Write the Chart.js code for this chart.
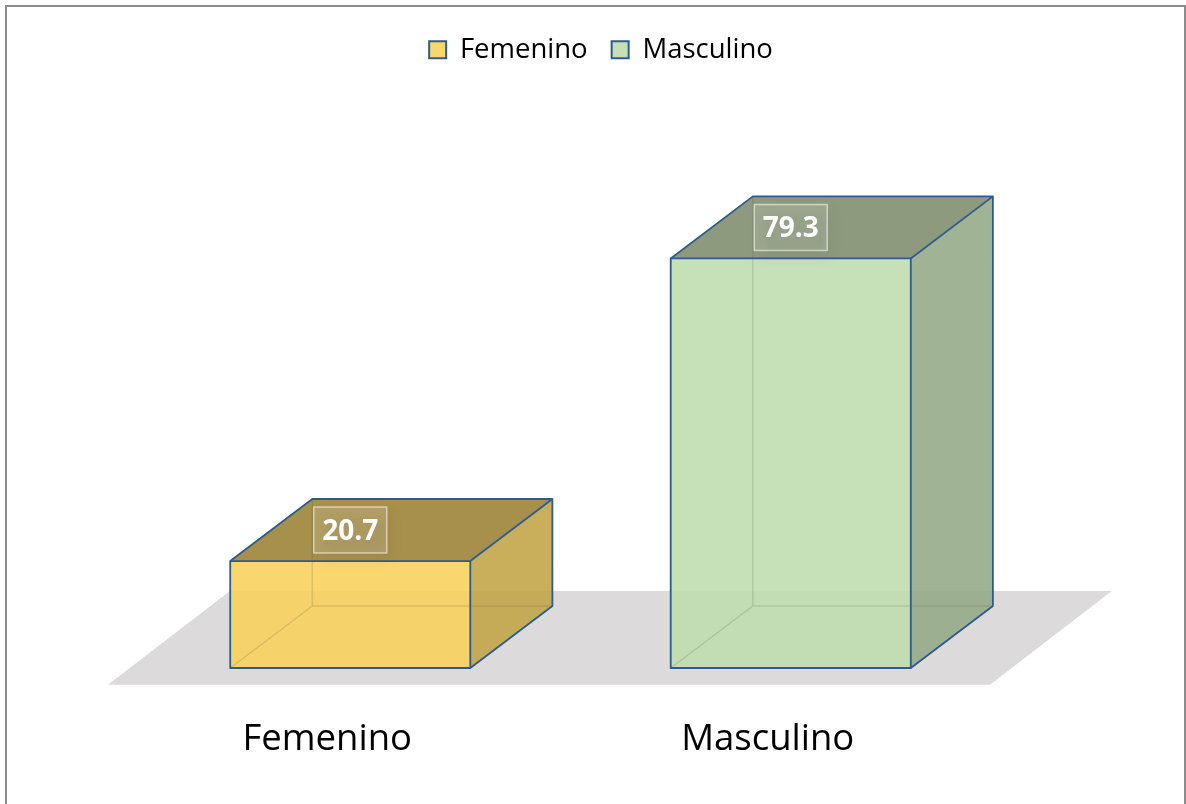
<!DOCTYPE html>
<html><head><meta charset="utf-8">
<script src="https://cdn.jsdelivr.net/npm/chart.js@4.4.0/dist/chart.umd.min.js"></script>
<style>
html,body{margin:0;padding:0;background:#fff;overflow:hidden}
#frame{position:absolute;left:5px;top:5px;width:1177px;height:830px;border:2px solid #8c8c8c;}
#wrap{position:absolute;left:0;top:0;width:1186px;height:804px}
</style></head>
<body><div id="frame"></div><div id="wrap"><canvas id="c" width="1186" height="804"></canvas></div>
<script>
const categories = ['Femenino', 'Masculino'];
const seriesNames = ['Femenino', 'Masculino'];
const femeninoValues = [20.7, null];
const masculinoValues = [null, 79.3];
const valueLabels = ['20.7', '79.3'];

const EDGE = '#2E5C8A';
const looks = [
  {front:'rgba(248,208,90,0.88)', top:'rgba(160,135,60,0.92)', side:'rgba(193,163,70,0.88)'},
  {front:'rgba(190,220,173,0.88)', top:'rgba(132,145,115,0.92)', side:'rgba(147,169,133,0.88)'}
];
const DEPTH_X = 0.342, SLOPE = 0.756;

function boxes(chart){
  const out = [];
  chart.data.datasets.forEach((ds, di) => {
    const meta = chart.getDatasetMeta(di);
    meta.data.forEach((el, i) => {
      if (ds.data[i] === null || ds.data[i] === undefined) return;
      const w = el.width;
      const dx = w * DEPTH_X, dy = dx * SLOPE;
      out.push({di, i, l: el.x - w/2, r: el.x + w/2, t: el.y, b: el.base, x: el.x, dx, dy, look: looks[di]});
    });
  });
  return out;
}

const box3d = {
  id: 'box3d',
  beforeDatasetsDraw(chart){
    const {ctx, chartArea: a} = chart;
    const bx = boxes(chart);
    if (!bx.length) return;
    const dy = bx[0].dy;
    const y0 = bx[0].b;
    const fy = y0 + dy * 0.27, by = y0 - dy * 1.24;
    const fl = a.left - 22, fr = a.right - 21;
    const off = (fy - by) * 1.3;
    ctx.save();
    ctx.fillStyle = '#DCDADB';
    ctx.beginPath();
    ctx.moveTo(fl, fy); ctx.lineTo(fl + off, by); ctx.lineTo(fr + off, by); ctx.lineTo(fr, fy);
    ctx.closePath(); ctx.fill();
    ctx.restore();
  },
  afterDatasetsDraw(chart){
    const {ctx} = chart;
    ctx.save();
    boxes(chart).forEach(b => {
      ctx.fillStyle = b.look.top;
      ctx.beginPath();
      ctx.moveTo(b.l, b.t); ctx.lineTo(b.l + b.dx, b.t - b.dy); ctx.lineTo(b.r + b.dx, b.t - b.dy); ctx.lineTo(b.r, b.t);
      ctx.closePath(); ctx.fill();
      ctx.fillStyle = b.look.side;
      ctx.beginPath();
      ctx.moveTo(b.r, b.t); ctx.lineTo(b.r + b.dx, b.t - b.dy); ctx.lineTo(b.r + b.dx, b.b - b.dy); ctx.lineTo(b.r, b.b);
      ctx.closePath(); ctx.fill();
      ctx.strokeStyle = 'rgba(90,90,60,0.18)';
      ctx.lineWidth = 1.5;
      ctx.beginPath();
      ctx.moveTo(b.l, b.b); ctx.lineTo(b.l + b.dx, b.b - b.dy);
      ctx.lineTo(b.r + b.dx, b.b - b.dy);
      ctx.moveTo(b.l + b.dx, b.b - b.dy); ctx.lineTo(b.l + b.dx, b.t - b.dy);
      ctx.stroke();
      ctx.strokeStyle = EDGE;
      ctx.lineWidth = 1.8;
      ctx.lineJoin = 'round';
      ctx.beginPath();
      ctx.moveTo(b.l, b.t); ctx.lineTo(b.l + b.dx, b.t - b.dy); ctx.lineTo(b.r + b.dx, b.t - b.dy); ctx.lineTo(b.r, b.t);
      ctx.moveTo(b.r + b.dx, b.t - b.dy); ctx.lineTo(b.r + b.dx, b.b - b.dy); ctx.lineTo(b.r, b.b);
      ctx.stroke();
      ctx.strokeRect(b.l, b.t, b.r - b.l, b.b - b.t);
      const cx = b.x, cy = b.t - b.dy / 2;
      const bw = 73, bh = 46;
      ctx.save();
      ctx.shadowColor = 'rgba(0,0,0,0.45)';
      ctx.shadowBlur = 14; ctx.shadowOffsetX = 4; ctx.shadowOffsetY = 6;
      ctx.fillStyle = 'rgba(255,255,255,0.14)';
      ctx.fillRect(cx - bw/2, cy - bh/2, bw, bh);
      ctx.restore();
      ctx.strokeStyle = 'rgba(255,255,255,0.55)';
      ctx.lineWidth = 1.5;
      ctx.strokeRect(cx - bw/2, cy - bh/2, bw, bh);
      ctx.fillStyle = '#ffffff';
      ctx.font = 'bold 28px "Open Sans"';
      ctx.textAlign = 'center';
      ctx.textBaseline = 'alphabetic';
      ctx.fillText(valueLabels[b.i], cx, cy + 10);
    });
    ctx.restore();
  }
};

new Chart(document.getElementById('c'), {
  type: 'bar',
  data: {
    labels: categories,
    datasets: [
      {label: seriesNames[0], data: femeninoValues, backgroundColor: looks[0].front, borderColor: EDGE, borderWidth: 0},
      {label: seriesNames[1], data: masculinoValues, backgroundColor: looks[1].front, borderColor: EDGE, borderWidth: 0}
    ]
  },
  options: {
    responsive: false,
    animation: false,
    devicePixelRatio: 1,
    layout: {padding: {left: 130, right: 114, top: 12, bottom: 42}},
    datasets: {bar: {grouped: false, categoryPercentage: 1, barPercentage: 0.545}},
    plugins: {
      tooltip: {enabled: false},
      title: {display: true, text: ' ', font: {size: 10}, padding: {top: 0, bottom: 66}},
      legend: {
        position: 'top', weight: 3000,
        labels: {
          boxWidth: 17, boxHeight: 17, padding: 24, color: '#000',
          font: {family: '"Open Sans"', size: 27.5},
          generateLabels(chart){
            const items = Chart.defaults.plugins.legend.labels.generateLabels(chart);
            items.forEach((it, k) => { it.lineWidth = 2; it.strokeStyle = EDGE; it.fillStyle = ['#F9D66E','#C6DFB8'][k]; });
            return items;
          }
        }
      }
    },
    scales: {
      x: {
        grid: {display: false, drawTicks: false}, border: {display: false},
        ticks: {color: '#000', padding: 50, labelOffset: -23, font: {family: '"Open Sans"', size: 36.5}},
        afterFit(s){ s.height = 94; }
      },
      y: {
        position: 'right', min: 0, max: 100,
        grid: {display: false, drawTicks: false}, border: {display: false},
        ticks: {display: false},
        afterFit(s){ s.width = 61; }
      }
    }
  },
  plugins: [box3d]
});
</script>
</body></html>
